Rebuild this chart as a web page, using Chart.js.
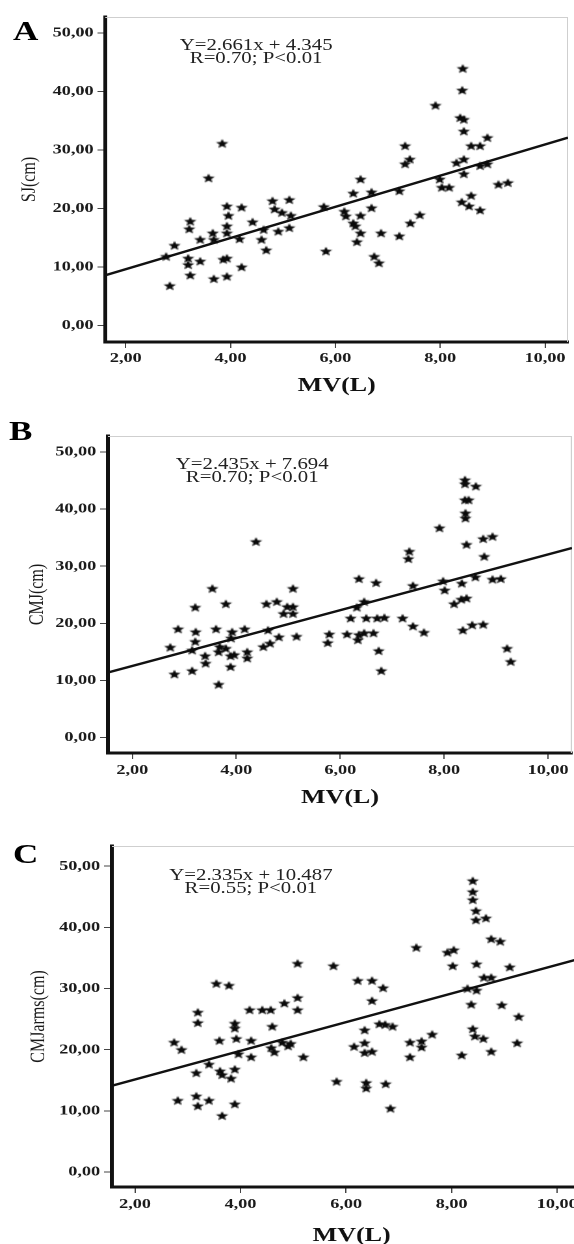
<!DOCTYPE html>
<html>
<head>
<meta charset="utf-8">
<script src="https://cdn.jsdelivr.net/npm/chart.js@4"></script>
<style>
    html, body { margin: 0; padding: 0; background: #fff; overflow: hidden; }
    body { width: 574px; height: 1244px; position: relative; }
    /* the source figure is stretched sideways, so everything is drawn narrow and scaled */
    #stretch { position: absolute; left: 0; top: 0; width: 460px; height: 1244px; transform: scaleX(1.3); transform-origin: 0 0; }
    .panel { position: absolute; left: 0; width: 460px; }
    .letter { position: absolute; font: bold 27px "Liberation Serif", serif; line-height: 27px; color: #000; }
    .eq { position: absolute; width: 220px; font: 16px "Liberation Serif", serif; line-height: 13px; color: #222; text-align: center; white-space: nowrap; }
</style>
</head>
<body>
<div id="stretch">
    <div class="letter" style="left:10px; top:18px;">A</div>
    <div class="letter" style="left:7px; top:418px;">B</div>
    <div class="letter" style="left:10px; top:841px;">C</div>

    <canvas id="chartSJ" class="panel" style="top:0px;" width="460" height="398"></canvas>
    <canvas id="chartCMJ" class="panel" style="top:400px;" width="460" height="410"></canvas>
    <canvas id="chartArms" class="panel" style="top:820px;" width="460" height="428"></canvas>

    <div class="eq" style="left:87px; top:38px;">Y=2.661x + 4.345<br>R=0.70; P&lt;0.01</div>
    <div class="eq" style="left:84px; top:457px;">Y=2.435x + 7.694<br>R=0.70; P&lt;0.01</div>
    <div class="eq" style="left:83px; top:868px;">Y=2.335x + 10.487<br>R=0.55; P&lt;0.01</div>
</div>

<script>
// tick labels
const xTicks = [2, 4, 6, 8, 10];
const yTicks = [0, 10, 20, 30, 40, 50];

// A: SJ vs MV
const sjX = [8.43, 8.42, 7.91, 8.38, 8.45, 8.45, 3.84, 8.59, 8.76, 8.90, 7.33, 7.42, 7.33, 8.31, 8.45,
    8.76, 8.90, 8.45, 3.58, 6.48, 7.99, 8.03, 8.17, 9.11, 9.29, 6.34, 6.69, 7.22, 8.59,
    8.41, 8.55, 8.76, 2.77, 2.84, 2.93, 3.23, 3.21, 3.19, 3.19, 3.23, 3.42, 3.42, 3.66, 3.68, 3.68,
    3.93, 3.93, 3.96, 3.93, 3.86, 3.93, 3.93, 4.21, 4.17, 4.21, 4.42, 4.59, 4.63, 4.68, 4.80, 4.84,
    4.91, 4.98, 5.12, 5.12, 5.15, 5.78, 5.82, 6.17, 6.20, 6.34, 6.38, 6.41, 6.48, 6.48, 6.69, 6.74,
    6.83, 6.87, 7.22, 7.43, 7.61];
const sjY = [43.9, 40.2, 37.6, 35.5, 35.2, 33.2, 31.1, 30.7, 30.7, 32.1, 30.7, 28.4, 27.6, 27.8, 28.4,
    27.3, 27.6, 25.9, 25.2, 25.0, 25.0, 23.6, 23.6, 24.1, 24.4, 22.6, 22.8, 23.0, 22.2,
    21.1, 20.4, 19.7, 11.8, 6.8, 13.7, 17.8, 16.5, 11.5, 10.4, 8.6, 14.7, 11.0, 15.8, 14.7, 8.0,
    20.4, 17.0, 18.8, 15.8, 11.3, 11.5, 8.4, 20.2, 14.8, 10.0, 17.7, 14.7, 16.4, 12.9, 21.3, 19.9,
    16.1, 19.3, 21.5, 16.7, 18.8, 20.3, 12.7, 19.5, 18.7, 17.5, 17.0, 14.3, 18.8, 15.8, 20.1, 11.8,
    10.7, 15.8, 15.3, 17.5, 18.9];
const sjFitX = [1.61, 10.44];
const sjFitY = [8.6, 32.1];

// B: CMJ vs MV
const cmjX = [8.40, 8.40, 8.61, 8.40, 8.47, 8.41, 8.41, 7.91, 4.38, 8.43, 8.75, 8.93, 7.33, 7.31, 8.77,
    3.54, 5.09, 6.36, 6.69, 7.40, 7.98, 8.01, 8.34, 8.60, 8.93, 9.09,
    3.21, 2.88, 2.73, 2.81, 3.15, 3.21, 3.22, 3.15, 3.40, 3.41, 3.61, 3.66, 3.68, 3.66, 3.80, 3.80,
    3.90, 3.89, 3.92, 3.89, 3.96, 4.16, 4.21, 4.21, 4.58, 4.61, 4.52, 4.65, 4.78, 4.82, 4.91, 4.98,
    5.09, 5.09, 5.16, 5.76, 5.79, 6.13, 6.20, 6.32, 6.34, 6.36, 6.46, 6.46, 6.50, 6.64, 6.71, 6.85,
    6.74, 6.79, 7.20, 7.40, 7.61, 8.19, 8.33, 8.43, 8.36, 8.54, 8.75, 9.21, 9.28];
const cmjY = [45.1, 44.4, 44.0, 41.6, 41.6, 39.3, 38.4, 36.7, 34.3, 33.8, 34.8, 35.2, 32.6, 31.3, 31.7,
    26.1, 26.1, 27.8, 27.1, 26.6, 27.4, 25.8, 27.0, 28.1, 27.7, 27.8,
    22.8, 19.0, 15.8, 11.1, 11.7, 16.8, 18.5, 15.3, 14.3, 13.0, 19.0, 9.3, 15.9, 15.0, 23.4, 15.6,
    17.4, 14.3, 18.5, 12.4, 14.5, 19.0, 15.0, 13.9, 23.4, 18.8, 15.9, 16.5, 23.8, 17.6, 21.7, 22.9,
    22.9, 21.7, 17.7, 16.6, 18.1, 18.1, 20.9, 22.8, 17.1, 18.0, 18.3, 23.8, 20.9, 18.3, 20.9, 21.0,
    15.2, 11.7, 20.9, 19.5, 18.4, 23.4, 24.2, 24.4, 18.8, 19.7, 19.8, 15.6, 13.3];
const cmjFitX = [1.53, 10.46];
const cmjFitY = [11.4, 33.2];

// C: CMJarms vs MV
const armsX = [8.40, 8.40, 8.40, 8.46, 8.46, 8.65, 8.75, 8.92, 7.33, 7.92, 8.04, 5.08, 5.76, 8.02, 8.47,
    9.10, 3.54, 3.78, 6.22, 6.49, 6.70, 6.49, 8.61, 8.75, 8.30, 8.47, 5.08, 4.83, 8.37, 8.95,
    9.27, 8.40, 8.44, 8.60, 8.75, 8.19, 9.24, 7.63, 7.21, 7.43, 7.43, 7.21, 6.35, 6.63, 6.74, 6.88,
    6.15, 6.35, 6.35, 6.49, 5.82, 6.38, 6.38, 6.75, 6.84, 5.08, 4.17, 4.41, 4.57, 4.60, 3.19, 3.19,
    2.74, 2.88, 3.60, 3.89, 3.89, 3.92, 3.96, 4.20, 4.20, 4.58, 4.64, 4.79, 4.95, 4.90, 5.19, 3.16,
    3.40, 3.61, 3.65, 3.82, 3.89, 2.81, 3.16, 3.19, 3.40, 3.65, 3.89];
const armsY = [47.6, 45.8, 44.5, 42.7, 41.2, 41.5, 38.1, 37.7, 36.7, 35.9, 36.3, 34.1, 33.7, 33.7, 34.0,
    33.5, 30.8, 30.5, 31.3, 31.3, 30.1, 28.0, 31.8, 31.8, 30.0, 29.7, 28.5, 27.6, 27.4, 27.3,
    25.4, 23.4, 22.2, 21.8, 19.7, 19.1, 21.1, 22.5, 21.2, 21.4, 20.4, 18.8, 23.2, 24.2, 24.1, 23.8,
    20.5, 21.1, 19.5, 19.7, 14.8, 14.6, 13.7, 14.4, 10.4, 26.5, 26.5, 26.5, 26.5, 23.8, 26.1, 24.4,
    21.2, 20.0, 21.5, 24.3, 23.5, 21.8, 19.3, 21.5, 18.8, 20.3, 19.6, 21.2, 21.0, 20.6, 18.8, 16.2,
    17.6, 16.5, 15.9, 15.3, 16.8, 11.7, 12.4, 10.8, 11.7, 9.2, 11.1];
const armsFitX = [1.56, 10.65];
const armsFitY = [14.1, 35.4];

const serif = '"Liberation Serif", "Times New Roman", serif';

// filled five-point star used as the marker
function makeStar() {
    const c = document.createElement('canvas');
    c.width = 12;
    c.height = 12;
    const g = c.getContext('2d');
    const cx = 6, cy = 6.4, R = 5.0, r = 2.2;
    g.beginPath();
    for (let i = 0; i < 10; i++) {
        const rad = i % 2 ? r : R;
        const a = -Math.PI / 2 + i * Math.PI / 5;
        const px = cx + rad * Math.cos(a);
        const py = cy + rad * Math.sin(a);
        if (i === 0) g.moveTo(px, py); else g.lineTo(px, py);
    }
    g.closePath();
    g.fillStyle = '#0a0a0a';
    g.fill();
    return c;
}
const starImg = makeStar();

// light grey top/right edge of the plot box
const frame = {
    id: 'frame',
    beforeDatasetsDraw(chart) {
        const { ctx, chartArea: a } = chart;
        ctx.save();
        ctx.strokeStyle = '#cfcfcf';
        ctx.lineWidth = 1;
        ctx.beginPath();
        ctx.moveTo(a.left, a.top + 0.5);
        ctx.lineTo(a.right - 0.5, a.top + 0.5);
        ctx.lineTo(a.right - 0.5, a.bottom);
        ctx.stroke();
        ctx.restore();
    }
};

function fmt(v) {
    return Number(v).toFixed(2).replace('.', ',');
}

function makeChart(id, xs, ys, fitX, fitY, yTitle, box) {
    const points = xs.map((x, i) => ({ x: x, y: ys[i] }));
    const fit = fitX.map((x, i) => ({ x: x, y: fitY[i] }));

    return new Chart(document.getElementById(id), {
        type: 'scatter',
        data: {
            datasets: [{
                data: fit,
                showLine: true,
                borderColor: '#111',
                borderWidth: 2.4,
                pointRadius: 0,
                order: 2
            }, {
                data: points,
                pointStyle: starImg,
                pointRadius: 5,
                backgroundColor: '#000',
                borderWidth: 0,
                order: 1
            }]
        },
        options: {
            responsive: false,
            animation: false,
            devicePixelRatio: 2,
            layout: { padding: { top: box.top, right: box.right, left: 0, bottom: 0 } },
            plugins: {
                legend: { display: false },
                tooltip: { enabled: false }
            },
            scales: {
                x: {
                    type: 'linear',
                    min: box.xMin,
                    max: box.xMax,
                    afterBuildTicks: s => { s.ticks = xTicks.map(v => ({ value: v })); },
                    afterFit: s => { s.height = box.axisH; },
                    border: { display: true, color: '#111', width: 3 },
                    grid: { drawOnChartArea: false, drawTicks: true, tickLength: 6, color: '#444', lineWidth: 1 },
                    ticks: {
                        callback: v => fmt(v),
                        font: { family: serif, weight: 'bold', size: 14 },
                        color: '#1a1a1a',
                        padding: box.xPad,
                        maxRotation: 0,
                        autoSkip: false
                    },
                    title: {
                        display: true,
                        text: 'MV(L)',
                        font: { family: serif, weight: 'bold', size: 20 },
                        color: '#111',
                        padding: { top: 0, bottom: 0 }
                    }
                },
                y: {
                    type: 'linear',
                    min: box.yMin,
                    max: box.yMax,
                    afterBuildTicks: s => { s.ticks = yTicks.map(v => ({ value: v })); },
                    afterFit: s => { s.width = box.left; },
                    border: { display: true, color: '#111', width: 3 },
                    grid: { drawOnChartArea: false, drawTicks: true, tickLength: 6, color: '#444', lineWidth: 1 },
                    ticks: {
                        callback: v => fmt(v),
                        font: { family: serif, weight: 'bold', size: 14 },
                        color: '#1a1a1a',
                        padding: 3,
                        autoSkip: false
                    },
                    title: {
                        display: true,
                        text: yTitle,
                        font: { family: serif, size: 16 },
                        color: '#1a1a1a',
                        padding: { top: box.titlePad, bottom: 0 }
                    }
                }
            }
        },
        plugins: [frame]
    });
}

makeChart('chartSJ', sjX, sjY, sjFitX, sjFitY, 'SJ(cm)', {
    top: 17, right: 23, left: 81, axisH: 56, xPad: 2, titlePad: 13,
    xMin: 1.61, xMax: 10.44, yMin: -2.8, yMax: 52.7
});
makeChart('chartCMJ', cmjX, cmjY, cmjFitX, cmjFitY, 'CMJ(cm)', {
    top: 36, right: 20, left: 83, axisH: 57, xPad: 3, titlePad: 19,
    xMin: 1.53, xMax: 10.46, yMin: -2.7, yMax: 52.8
});
makeChart('chartArms', armsX, armsY, armsFitX, armsFitY, 'CMJarms(cm)', {
    top: 26, right: 5, left: 86, axisH: 61, xPad: 3, titlePad: 20,
    xMin: 1.56, xMax: 10.65, yMin: -2.45, yMax: 53.3
});
</script>
</body>
</html>
